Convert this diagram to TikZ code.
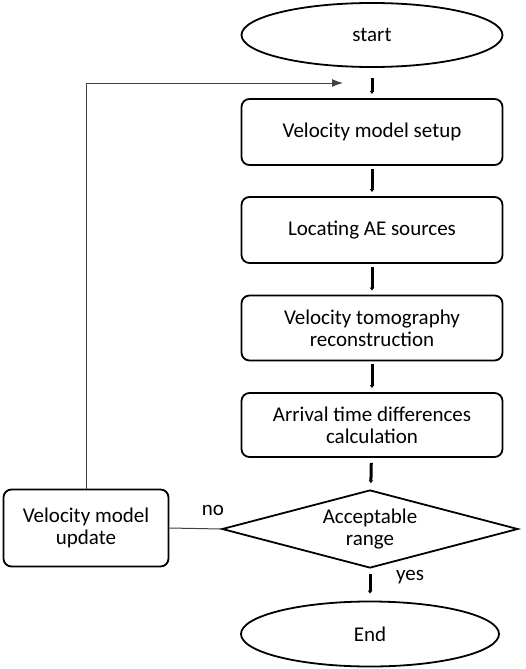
\documentclass[tikz,border=0pt]{standalone}
\usepackage{fontspec}
\setmainfont{Carlito}
\usetikzlibrary{shapes.geometric,arrows.meta}
\tikzset{
  every node/.style={font=\fontsize{21}{25}\selectfont},
  procbox/.style={draw, line width=1.8pt, rounded corners=8pt, minimum width=261pt, minimum height=66pt, inner sep=0pt, align=center},
  termell/.style={draw, ellipse, line width=1.8pt, minimum width=261pt, minimum height=64pt, inner sep=0pt},
  decdia/.style={draw, diamond, aspect=3.8, line width=1.8pt, minimum width=296pt, minimum height=78pt, inner sep=0pt, align=center},
  flow/.style={line width=3pt, -{Latex[length=3pt,width=5pt]}, shorten <=3pt, shorten >=4pt},
  fb/.style={line width=1pt, draw=black!75, -{Latex[length=11pt,width=8pt]}},
  lbl/.style={inner sep=0pt}
}
\begin{document}
\begin{tikzpicture}[x=1pt,y=-1pt]
\useasboundingbox (0,0) rectangle (526,669);
\node[termell] (start) at (372,35) {start};
\node[procbox] (b1) at (372,132) {Velocity model setup};
\node[procbox] (b2) at (372,230) {Locating AE sources};
\node[procbox, minimum height=65pt] (b3) at (372,328) {Velocity tomography\\[-3pt]reconstruction};
\node[procbox, minimum height=64pt] (b4) at (372,425) {Arrival time differences\\[-3pt]calculation};
\node[decdia] (dec) at (370,529) {Acceptable\\[-3pt]range};
\node[termell, minimum width=258pt, minimum height=65pt] (end) at (370,634) {End};
\node[procbox, minimum width=165pt, minimum height=77pt] (upd) at (86,528) {Velocity model\\[-3pt]update};
\coordinate (fbend) at (343,83);
\draw[flow, shorten <=10pt] (start) -- (b1);
\draw[flow] (b1) -- (b2);
\draw[flow] (b2) -- (b3);
\draw[flow] (b3) -- (b4);
\draw[flow, shorten <=5pt, shorten >=6pt] (b4) -- (dec);
\draw[flow, shorten <=5pt, shorten >=7pt] (dec) -- (end);
\draw[line width=1pt, draw=black!75] (dec.west) -- (upd.east);
\draw[fb] (upd.north) |- (fbend);
\node[lbl] (no) at (213,510) {no};
\node[lbl] (yes) at (410,577) {yes};
\end{tikzpicture}
\end{document}
